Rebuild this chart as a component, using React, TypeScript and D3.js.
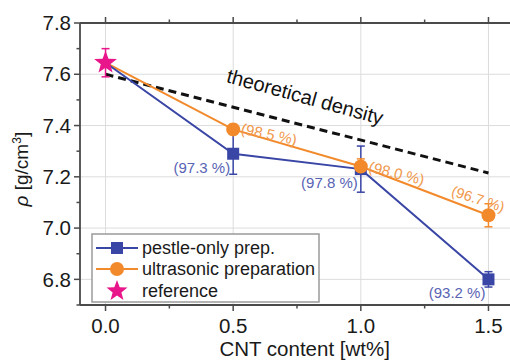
import React from 'react';
import * as d3 from 'd3';

// CNT content [wt%]
const cnt = [0, 0.5, 1.0, 1.5];
const pestle = [7.645, 7.29, 7.23, 6.8];
const pestleErr = [0, 0.08, 0.09, 0.03];
const ultra = [7.645, 7.385, 7.24, 7.05];
const ultraErr = [0, 0.02, 0.03, 0.045];
const refValue = 7.645;
const refErr = 0.055;
const theoX = [0, 1.5];
const theoY = [7.6, 7.215];
const pestleLabels = ['', '(97.3 %)', '(97.8 %)', '(93.2 %)'];
const ultraLabels = ['', '(98.5 %)', '(98.0 %)', '(96.7 %)'];
const xTicks = [0, 0.5, 1.0, 1.5];
const yTicks = [6.8, 7.0, 7.2, 7.4, 7.6, 7.8];

const BLUE = '#3a46a6';
const ORANGE = '#f28a2c';
const PINK = '#e8168a';
const FONT = '"Liberation Sans", Arial, sans-serif';

const starPath = (cx: number, cy: number, R: number, r: number) => {
  const pts: [number, number][] = [];
  for (let i = 0; i < 10; i++) {
    const a = -Math.PI / 2 + (i * Math.PI) / 5;
    const rad = i % 2 === 0 ? R : r;
    pts.push([cx + rad * Math.cos(a), cy + rad * Math.sin(a)]);
  }
  return 'M' + pts.map((p) => p.join(',')).join('L') + 'Z';
};

export default function App() {
  const x = d3.scaleLinear().domain([-0.1, 1.6]).range([80, 514]);
  const y = d3.scaleLinear().domain([6.7, 7.8]).range([305, 23]);
  const line = d3.line<number>().x((_, i) => x(cnt[i])).y((d) => y(d));
  const xMinor = d3.range(0, 1.6, 0.25);
  const yMinor = d3.range(6.7, 7.81, 0.1);

  const errBar = (cx: number, v: number, e: number, color: string, key: string) =>
    e > 0 ? (
      <g key={key} stroke={color} strokeWidth={1.5}>
        <line x1={cx} x2={cx} y1={y(v - e)} y2={y(v + e)} />
        <line x1={cx - 4} x2={cx + 4} y1={y(v - e)} y2={y(v - e)} />
        <line x1={cx - 4} x2={cx + 4} y1={y(v + e)} y2={y(v + e)} />
      </g>
    ) : null;

  const theoAngle = (Math.atan2(y(theoY[1]) - y(theoY[0]), x(theoX[1]) - x(theoX[0])) * 180) / Math.PI;

  return (
    <svg width={510} height={360} style={{ position: 'fixed', left: 0, top: 0, background: '#fff' }} fontFamily={FONT}>
      {/* grid */}
      <g stroke="#dcdcdc" strokeWidth={1}>
        {xTicks.map((t) => (
          <line key={'gx' + t} x1={x(t)} x2={x(t)} y1={y(7.8)} y2={y(6.7)} />
        ))}
        {yTicks.map((t) => (
          <line key={'gy' + t} x1={x(-0.1)} x2={x(1.6)} y1={y(t)} y2={y(t)} />
        ))}
      </g>

      {/* theoretical density */}
      <line
        x1={x(theoX[0])} y1={y(theoY[0])} x2={x(theoX[1])} y2={y(theoY[1])}
        stroke="#111" strokeWidth={3} strokeDasharray="8 5"
      />
      <text
        transform={`translate(${x(0.47)},${y(7.57)}) rotate(${theoAngle + 1})`}
        fontSize={20} fill="#111"
      >
        theoretical density
      </text>

      {/* series lines */}
      <path d={line(ultra) ?? ''} fill="none" stroke={ORANGE} strokeWidth={2} />
      <path d={line(pestle) ?? ''} fill="none" stroke={BLUE} strokeWidth={2} />

      {/* error bars */}
      {cnt.map((c, i) => errBar(x(c), pestle[i], pestleErr[i], BLUE, 'pe' + i))}
      {cnt.map((c, i) => errBar(x(c), ultra[i], ultraErr[i], ORANGE, 'ue' + i))}
      {errBar(x(0), refValue, refErr, PINK, 're')}

      {/* markers */}
      {cnt.slice(1).map((c, i) => (
        <rect key={'ps' + i} x={x(c) - 6} y={y(pestle[i + 1]) - 6} width={12} height={12} fill={BLUE} />
      ))}
      {cnt.slice(1).map((c, i) => (
        <circle key={'uc' + i} cx={x(c)} cy={y(ultra[i + 1])} r={7} fill={ORANGE} />
      ))}
      <path d={starPath(x(0), y(refValue), 12, 5)} fill={PINK} />

      {/* percentage labels */}
      <g fontSize={15} fill="#5863b4">
        {cnt.map((c, i) =>
          pestleLabels[i] ? (
            <text key={'pl' + i} x={x(c) - 3} y={y(pestle[i]) + 19} textAnchor="end">
              {pestleLabels[i]}
            </text>
          ) : null
        )}
      </g>
      <g fontSize={15} fill="#f0974a">
        <text transform={`translate(${x(cnt[1]) + 7},${y(ultra[1]) + 4}) rotate(12)`}>{ultraLabels[1]}</text>
        <text transform={`translate(${x(cnt[2]) + 7},${y(ultra[2]) + 5}) rotate(14)`}>{ultraLabels[2]}</text>
        <text transform={`translate(${x(cnt[3]) - 38},${y(ultra[3]) - 20}) rotate(18)`} fontSize={14.5}>
          {ultraLabels[3]}
        </text>
      </g>

      {/* frame */}
      <g stroke="#4a4a4a" strokeWidth={1.8} fill="none">
        <line x1={x(-0.1)} x2={x(-0.1)} y1={y(7.8)} y2={y(6.7)} />
        <line x1={x(-0.1)} x2={x(1.6)} y1={y(6.7)} y2={y(6.7)} />
        <line x1={x(-0.1)} x2={x(1.6)} y1={y(7.8)} y2={y(7.8)} />
      </g>
      <g stroke="#4a4a4a" strokeWidth={1.5}>
        {xMinor.map((t) => {
          const major = Math.abs(t * 2 - Math.round(t * 2)) < 1e-6;
          const len = major ? 6 : 3.5;
          return (
            <g key={'xt' + t}>
              <line x1={x(t)} x2={x(t)} y1={y(6.7)} y2={y(6.7) + len} />
              <line x1={x(t)} x2={x(t)} y1={y(7.8)} y2={y(7.8) - len} />
            </g>
          );
        })}
        {yMinor.map((t) => {
          const major = Math.abs(t * 5 - Math.round(t * 5)) < 1e-6;
          const len = major ? 6 : 3.5;
          return <line key={'yt' + t} x1={x(-0.1) - len} x2={x(-0.1)} y1={y(t)} y2={y(t)} />;
        })}
      </g>

      {/* tick labels */}
      <g fontSize={20.5} fill="#1a1a1a">
        {xTicks.map((t) => (
          <text key={'xl' + t} x={x(t)} y={y(6.7) + 28} textAnchor="middle">
            {t.toFixed(1)}
          </text>
        ))}
        {yTicks.map((t) => (
          <text key={'yl' + t} x={x(-0.1) - 9} y={y(t)} dy="0.35em" textAnchor="end">
            {t.toFixed(1)}
          </text>
        ))}
      </g>

      {/* axis titles */}
      <text x={x(0.78)} y={356} fontSize={20.5} fill="#1a1a1a" textAnchor="middle">
        CNT content [wt%]
      </text>
      <text transform={`translate(28,${y(7.23)}) rotate(-90)`} fontSize={19} fill="#1a1a1a" textAnchor="middle">
        <tspan fontStyle="italic">ρ</tspan> [g/cm<tspan fontSize={12} dy={-7}>3</tspan>
        <tspan dy={7}>]</tspan>
      </text>

      {/* legend */}
      <g>
        <rect x={92} y={234} width={227} height={68} fill="#fff" stroke="#9a9a9a" strokeWidth={1.5} />
        <line x1={96} x2={138} y1={248} y2={248} stroke={BLUE} strokeWidth={2} />
        <rect x={111} y={242} width={12} height={12} fill={BLUE} />
        <text x={142} y={254} fontSize={18} fill="#1a1a1a">pestle-only prep.</text>
        <line x1={96} x2={138} y1={269} y2={269} stroke={ORANGE} strokeWidth={2} />
        <circle cx={117} cy={269} r={7} fill={ORANGE} />
        <text x={142} y={275} fontSize={18} fill="#1a1a1a">ultrasonic preparation</text>
        <path d={starPath(117, 291, 11, 4.6)} fill={PINK} />
        <text x={142} y={297} fontSize={18} fill="#1a1a1a">reference</text>
      </g>
    </svg>
  );
}
